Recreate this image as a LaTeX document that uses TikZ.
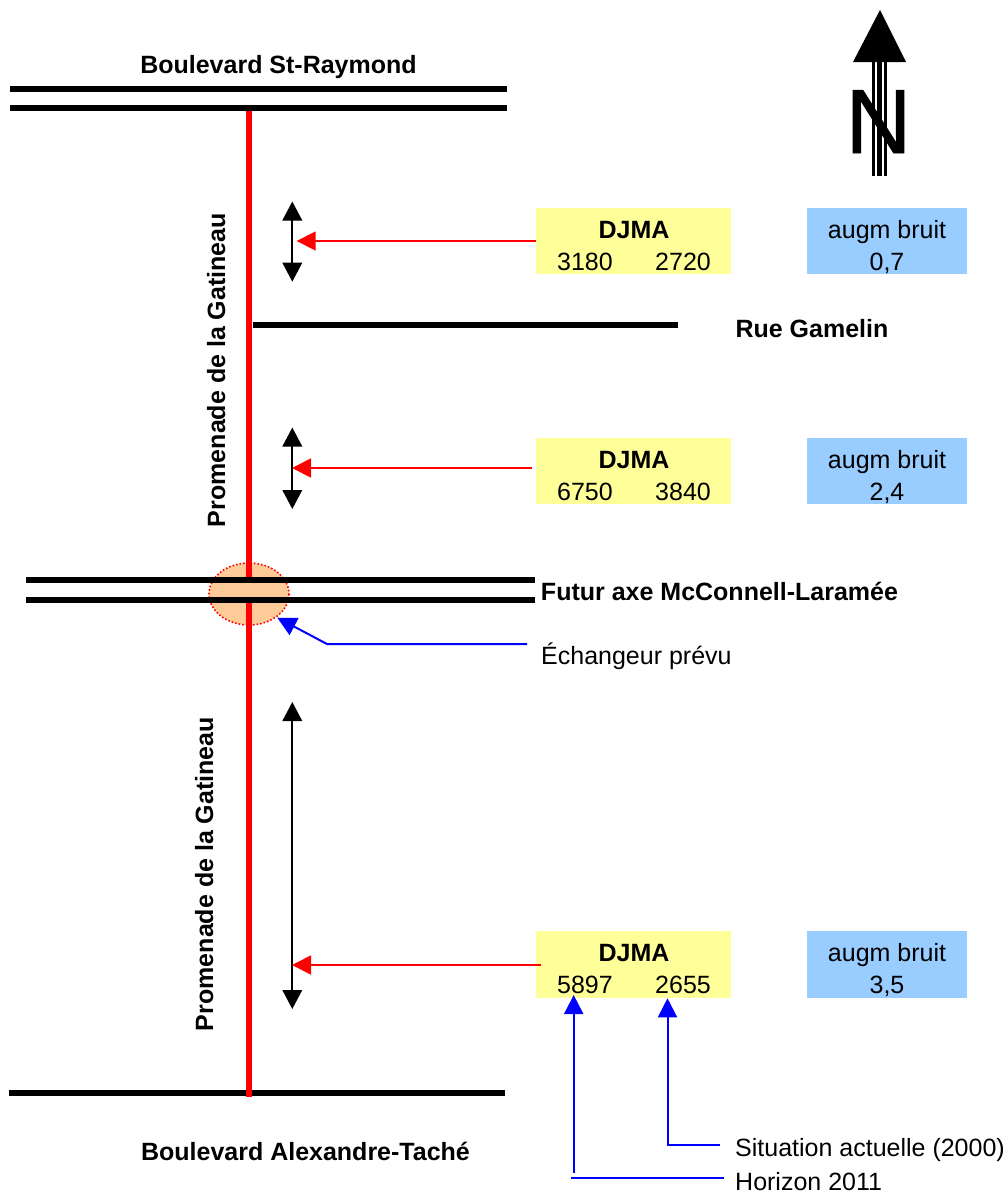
\documentclass[tikz,border=0pt]{standalone}
\usepackage{fontspec}
\setmainfont{Liberation Sans}
\newfontfamily\nfont[FakeBold=1]{Liberation Sans}
\usetikzlibrary{arrows.meta}
\definecolor{ylw}{HTML}{FFFF99}
\definecolor{blu}{HTML}{99CCFF}
\definecolor{org}{HTML}{FFCC99}
\tikzset{
 road/.style={line width=6pt,black},
 rred/.style={line width=6pt,red},
 lab/.style={font=\fontsize{25}{27}\selectfont,inner sep=0pt,anchor=base},
 blab/.style={lab,font=\fontsize{25}{27}\selectfont\bfseries},
 boxy/.style={fill=ylw,minimum width=195pt,minimum height=66.5pt,inner sep=0pt},
 boxb/.style={fill=blu,minimum width=160pt,minimum height=66.5pt,inner sep=0pt},
 dbl/.style={line width=2pt,black,{Triangle[length=19pt,width=19.5pt]}-{Triangle[length=19pt,width=19.5pt]}},
 redar/.style={line width=1.8pt,red,-{Triangle[length=19pt,width=19pt]}},
 bluar/.style={line width=2pt,blue,-{Triangle[length=19pt,width=19pt]}},
 blin/.style={line width=2pt,blue},
}
\begin{document}
\begin{tikzpicture}[x=1pt,y=-1pt]
\useasboundingbox (0,0) rectangle (1007,1194);
% north arrow
\fill[black] (880,10) -- (906,62) -- (853,62) -- cycle;
\fill[black] (872.3,60) rectangle (874.7,176);
\fill[black] (876.7,60) rectangle (882.3,176);
\fill[black] (884.3,60) rectangle (886.7,176);
\node[inner sep=0pt,anchor=base] (north) at (878.5,153) {\fontsize{91}{91}\selectfont\nfont N};
% roads
\draw[road] (10,89) -- (507,89);
\draw[road] (10,108) -- (507,108);
\draw[road] (253,325) -- (678,325);
\draw[road] (9,1093) -- (505,1093);
\draw[rred] (249,111) -- (249,1097);
\fill[org] (249,594) ellipse (40 and 31);
\draw[red,line width=1.6pt,dotted] (249,594) ellipse (40 and 31);
\draw[rred] (249,560) -- (249,578);
\draw[rred] (249,600) -- (249,630);
\draw[road] (26,580) -- (535,580);
\draw[road] (26,600) -- (535,600);
% road labels
\node[blab] (stray) at (278.5,73) {Boulevard St-Raymond};
\node[blab] (gamelin) at (812,337) {Rue Gamelin};
\node[blab] (futur) at (719.5,600) {Futur axe McConnell-Laramée};
\node[blab] (tache) at (305.5,1160) {Boulevard Alexandre-Taché};
\node[blab,rotate=90] (prom1) at (225,370) {Promenade de la Gatineau};
\node[blab,rotate=90] (prom2) at (213,874) {Promenade de la Gatineau};
% boxes
\node[boxy] (d1) at (633.5,241) {};
\node[boxy] (d2) at (633.5,471) {};
\node[boxy] (d3) at (633.5,964.5) {};
\node[boxb] (b1) at (887,241) {};
\node[boxb] (b2) at (887,471) {};
\node[boxb] (b3) at (887,964.5) {};
\foreach \yy/\a/\b in {238/3180/2720,468/6750/3840,961/5897/2655}{
 \node[blab] at (634,\yy) {DJMA};
 \node[lab] at (585,\yy+32) {\a};
 \node[lab] at (683,\yy+32) {\b};
}
\foreach \yy/\v in {238/{0,7},468/{2,4},961/{3,5}}{
 \node[lab] at (887,\yy) {augm bruit};
 \node[lab] at (887,\yy+32) {\v};
}
% double arrows
\coordinate (a1t) at (292.3,201.5); \coordinate (a1b) at (292.3,281.7);
\coordinate (a2t) at (292.3,427.5); \coordinate (a2b) at (292.3,509);
\coordinate (a3t) at (292.3,702); \coordinate (a3b) at (292.3,1009);
\draw[dbl] (a1t) -- (a1b);
\draw[dbl] (a2t) -- (a2b);
\draw[dbl] (a3t) -- (a3b);
% red arrows
\draw[redar] (d1.west) -- (296.7,241);
\coordinate (r2) at (532,468);
\draw[redar] (r2) -- (292,468);
\coordinate (r3) at (541,965);
\draw[redar] (r3) -- (292,965);
% blue
\node[lab,anchor=base west] (ech) at (541,664) {Échangeur prévu};
\node[lab,anchor=base west] (sit) at (735,1156) {Situation actuelle (2000)};
\node[lab,anchor=base west] (hor) at (735,1190) {Horizon 2011};
\coordinate (e0) at (527,644); \coordinate (e1) at (327,644); \coordinate (e2) at (277.3,617.7);
\draw[bluar] (e0) -- (e1) -- (e2);
\coordinate (s0) at (719.7,1145); \coordinate (s1) at (667.5,1145); \coordinate (s2) at (667.5,998.3);
\draw[bluar] (s0) -- (s1) -- (s2);
\coordinate (h0) at (723.7,1178); \coordinate (h1) at (571.3,1178);
\coordinate (h2) at (573.7,1172.7); \coordinate (h3) at (573.7,995);
\draw[blin] (h0) -- (h1);
\draw[bluar] (h2) -- (h3);
\end{tikzpicture}
\end{document}
